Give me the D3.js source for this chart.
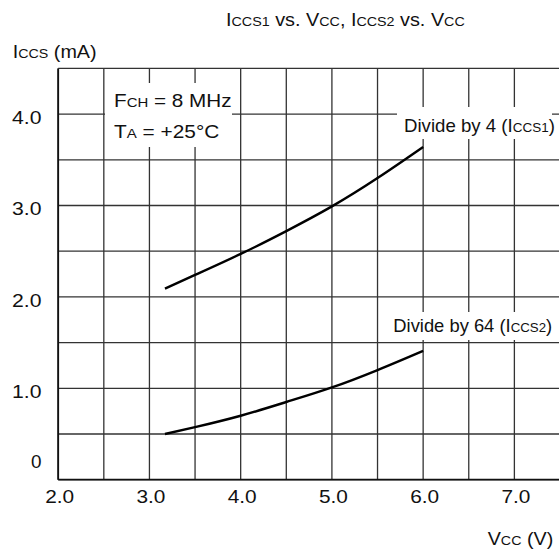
<!DOCTYPE html>
<html><head><meta charset="utf-8">
<script src="https://cdn.jsdelivr.net/npm/d3@7"></script>
<style>body{margin:0;background:#fff}svg{display:block}text{font-family:"Liberation Sans",Arial,sans-serif;fill:#111}</style>
</head><body><svg id="c" width="559" height="551"></svg>
<script>
const vcc = [3.17, 3.5, 4.0, 4.5, 5.0, 5.5, 6.0];
const iccs1 = [2.09, 2.24, 2.47, 2.72, 2.99, 3.30, 3.64];
const iccs2 = [0.50, 0.575, 0.70, 0.85, 1.01, 1.20, 1.41];
const xTicks = [2, 3, 4, 5, 6, 7];
const xTickLabels = ["2.0", "3.0", "4.0", "5.0", "6.0", "7.0"];
const yTicks = [0, 1, 2, 3, 4];
const yTickLabels = ["0", "1.0", "2.0", "3.0", "4.0"];
const xGrid = d3.range(2, 7.51, 0.5);
const yGrid = d3.range(0, 4.51, 0.5);

const svg = d3.select("#c");
const x = d3.scaleLinear().domain([2, 7.5]).range([58.2, 560]);
const y = d3.scaleLinear().domain([0, 4.5]).range([479.7, 68.4]);
const FS = 18, SFS = 13;

const g = svg.append("g");
g.selectAll(".vg").data(xGrid).enter().append("line")
  .attr("x1", d => x(d)).attr("x2", d => x(d)).attr("y1", y(0)).attr("y2", y(4.5))
  .attr("stroke", "#333").attr("stroke-width", 1.3);
g.selectAll(".hg").data(yGrid).enter().append("line")
  .attr("x1", x(2)).attr("x2", x(7.5)).attr("y1", d => y(d)).attr("y2", d => y(d))
  .attr("stroke", "#333").attr("stroke-width", 1.3);
svg.append("line").attr("x1", x(2)).attr("x2", x(2)).attr("y1", y(0)).attr("y2", y(4.5)).attr("stroke", "#111").attr("stroke-width", 1.8);
svg.append("line").attr("x1", x(2)).attr("x2", x(7.5)).attr("y1", y(0)).attr("y2", y(0)).attr("stroke", "#111").attr("stroke-width", 1.8);

function box(x0, y0, x1, y1) {
  svg.append("rect").attr("x", x0).attr("y", y0).attr("width", x1 - x0).attr("height", y1 - y0).attr("fill", "#fff");
}
box(105, 83, 232, 147);
box(397, 107, 552, 139);
box(389, 312, 556, 340);

const line = d3.line().x(d => x(d[0])).y(d => y(d[1])).curve(d3.curveNatural);
[iccs1, iccs2].forEach(s => {
  svg.append("path").datum(vcc.map((v, i) => [v, s[i]])).attr("d", line)
    .attr("fill", "none").attr("stroke", "#000").attr("stroke-width", 2.4);
});

function fit(t, x0, x1) {
  const bb = t.node().getBBox();
  const k = (x1 - x0) / bb.width;
  t.attr("transform", `translate(${x0 - bb.x * k},0) scale(${k},1)`);
  return t;
}
function rich(yy, parts, x0, x1) {
  const t = svg.append("text").attr("x", 0).attr("y", yy).attr("font-size", FS);
  parts.forEach(p => t.append("tspan").attr("font-size", p[1] ? SFS : FS).text(p[0]));
  return fit(t, x0, x1);
}
xTicks.forEach((d, i) => {
  const c = x(d) + 1.5;
  rich(503, [[xTickLabels[i]]], c - 14.5, c + 14.5);
});
yTicks.forEach((d, i) => {
  const lbl = yTickLabels[i];
  const yy = d === 0 ? 468 : y(d) + 10;
  const w = lbl.length === 1 ? 10.5 : 29.5;
  rich(yy, [[lbl]], 41.5 - w, 41.5);
});

rich(26.5, [["I"], ["CCS1", 1], [" vs. V"], ["CC", 1], [", I"], ["CCS2", 1], [" vs. V"], ["CC", 1]], 226, 465);
rich(58, [["I"], ["CCS", 1], [" (mA)"]], 12.7, 96.7);
rich(545, [["V"], ["CC", 1], [" (V)"]], 487.7, 553.3);
rich(106.7, [["F"], ["CH", 1], [" = 8 MHz"]], 114, 231.7);
rich(138, [["T"], ["A", 1], [" = +25°C"]], 114, 219.3);
rich(131.7, [["Divide by 4 (I"], ["CCS1", 1], [")"]], 404, 555);
rich(331.7, [["Divide by 64 (I"], ["CCS2", 1], [")"]], 393.3, 552.3);
</script></body></html>
